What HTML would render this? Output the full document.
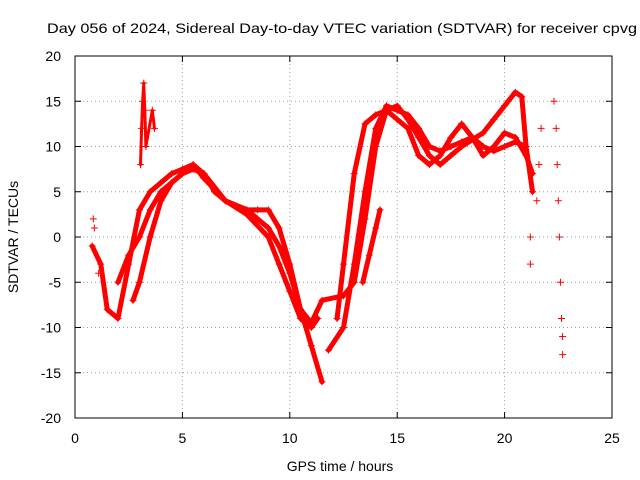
<!DOCTYPE html>
<html><head><meta charset="utf-8"><style>
body{margin:0;background:#fff;}
svg{display:block;font-family:"Liberation Sans",sans-serif;}
</style></head><body>
<svg id="c" width="640" height="480">
<text x="47" y="33" font-size="14" textLength="590" lengthAdjust="spacingAndGlyphs">Day 056 of 2024, Sidereal Day-to-day VTEC variation (SDTVAR) for receiver cpvg</text>
<text x="340" y="471" text-anchor="middle" font-size="14">GPS time / hours</text>
<text transform="translate(18,237) rotate(-90)" text-anchor="middle" font-size="14">SDTVAR / TECUs</text>
<g id="grid"></g><g id="tracks"></g><g id="axes"></g>
</svg>
<script>
const xTicks=[0,5,10,15,20,25];
const yTicks=[-20,-15,-10,-5,0,5,10,15,20];
const track1T=[0.8,1.2,1.5,2,2.5,3,3.5,4,4.5,5,5.5,6,6.5,7,8,8.5,9,9.5,10,10.5,11,11.5,12.5,13,13.5,14,14.5,15,15.5,16,16.5,17,17.5,18,18.5,19,19.5,20,20.5,21,21.3];
const track1V=[-1,-3,-8,-9,-3,3,5,6,7,7.5,8,7,5,4,3,2,1,-1,-4,-8,-9.5,-7,-6.5,-5,2,10,14,13,12,9,8,9,11,12.5,11,9,10,11.5,11,9,7];
const track2T=[2,2.5,3,3.5,4,5,5.5,6,7,8,8.5,9,9.5,10,10.5,11,11.5];
const track2V=[-5,-2,0,3,5,7,8,6.5,4,3,3,3,1,-3,-8,-12,-16];
const track3T=[11.8,12.5,13,13.5,14,14.5,15,15.5,16,16.5,17,17.5,18,18.5,19,19.5,20,20.5,21];
const track3V=[-12.5,-10,-3,5,12,14.5,14,13.5,12,10,9.5,10,10.5,11,10,9.5,10,10.5,10];
const track4T=[2.7,3,3.5,4,4.5,5,5.5,6,7,8,9,9.5,10,10.5,11,11.3];
const track4V=[-7,-5,0,4,6,7,7.5,7,4,2.5,0,-3,-6,-9,-10,-9];
const track5T=[12.2,12.5,13,13.5,14,15,15.5,16,16.5,17,17.5,18,19,19.5,20,20.5,20.8,21,21.3];
const track5V=[-9,-3,7,12.5,13.5,14.5,13,11,9,8,9,10,11.5,13,14.5,16,15.5,10,5];
const track6T=[13.4,13.7,14,14.2];
const track6V=[-5,-2,1,3];
const spikeT=[3.05,3.1,3.15,3.2,3.25,3.3,3.6,3.7];
const spikeV=[8,12,15,17,14,10,14,12];
const scatterT=[0.85,0.9,1.1,21.2,21.2,21.5,21.6,21.7,22.3,22.4,22.45,22.5,22.55,22.6,22.65,22.7,22.7];
const scatterV=[2,1,-4,0,-3,4,8,12,15,12,8,4,0,-5,-9,-11,-13];
const X=t=>75+t*(537/25), Y=v=>237-v*(362/40);
const NS="http://www.w3.org/2000/svg";
function mk(tag,attrs,parent){const e=document.createElementNS(NS,tag);for(const k in attrs)e.setAttribute(k,attrs[k]);parent.appendChild(e);return e;}
const grid=document.getElementById('grid'),axes=document.getElementById('axes'),tr=document.getElementById('tracks');
mk('rect',{x:75,y:56,width:537,height:362,fill:'none',stroke:'#000','stroke-width':1},axes);
xTicks.forEach(t=>{
 if(t>0&&t<25){const g=mk('line',{x1:X(t),x2:X(t),y1:56,y2:418,stroke:'#a0a0a0','stroke-dasharray':'1,3'},grid);
 
 }
 const l=mk('text',{x:X(t),y:443,'text-anchor':'middle','font-size':14},axes);l.textContent=t;
 
 
 mk('line',{x1:X(t),x2:X(t),y1:418,y2:412,stroke:'#000'},axes);mk('line',{x1:X(t),x2:X(t),y1:56,y2:62,stroke:'#000'},axes);
});
yTicks.forEach(v=>{
 if(v>-20&&v<20){const g=mk('line',{x1:75,x2:612,y1:Y(v),y2:Y(v),stroke:'#a0a0a0','stroke-dasharray':'1,3'},grid);
 
 }
 const l=mk('text',{x:61,y:Y(v)+5,'text-anchor':'end','font-size':14},axes);l.textContent=v;
 
 
 mk('line',{x1:75,x2:81,y1:Y(v),y2:Y(v),stroke:'#000'},axes);mk('line',{x1:612,x2:606,y1:Y(v),y2:Y(v),stroke:'#000'},axes);
});
function track(T,V,name,w){
 const p=mk('polyline',{points:T.map((t,i)=>X(t)+','+Y(V[i])).join(' '),fill:'none',stroke:'#f00','stroke-width':w,'stroke-linejoin':'round','stroke-linecap':'round'},tr);
 
 
 markers(T,V);
}
function markers(T,V){
 T.forEach((t,i)=>{const x=X(t),y=Y(V[i]);
  const m=mk('path',{d:`M${x-3.5},${y}h7M${x},${y-3.5}v7`,stroke:'#f00','stroke-width':1},tr);
  
  });
}
track(track1T,track1V,'track-1',5);
track(track2T,track2V,'track-2',5);
track(track3T,track3V,'track-3',5);
track(track4T,track4V,'track-4',5);
track(track5T,track5V,'track-5',5);
track(track6T,track6V,'track-6',5);
track(spikeT,spikeV,'spike-track',3);
markers(scatterT,scatterV);
</script>
</body></html>
